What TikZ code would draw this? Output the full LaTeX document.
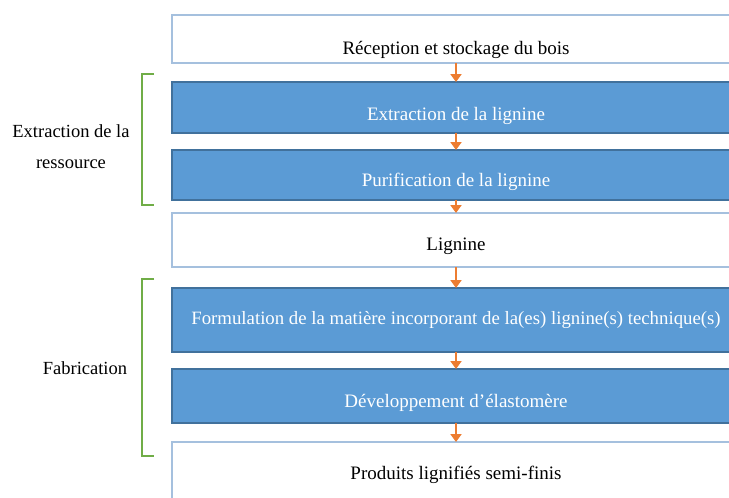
\documentclass[tikz,border=0pt]{standalone}
\usepackage{fontspec}
\setmainfont{Liberation Serif}
\usetikzlibrary{arrows.meta}
\usetikzlibrary{positioning}

\definecolor{bleu}{HTML}{5B9BD5}
\definecolor{bleufonce}{HTML}{41719C}
\definecolor{bleuclair}{HTML}{A5C0DE}
\definecolor{orange}{HTML}{ED7D31}
\definecolor{vert}{HTML}{70AD47}

% texte abaisse dans la boite
\newcommand{\decale}[2]{\raisebox{#1}[0pt][0pt]{#2}}

\begin{document}
\begin{tikzpicture}[x=1pt, y=-1pt,
        etape/.style={rectangle, draw=bleuclair, line width=1.8pt, fill=white, minimum width=568pt, inner sep=0pt, outer sep=0pt, font=\fontsize{19}{22}\selectfont},
        procede/.style={etape, draw=bleufonce, line width=1.2pt, fill=bleu, text=white},
        fleche/.style={draw=orange, line width=2.8pt, -{Triangle[width=11pt,length=8pt]}},
        accolade/.style={draw=vert, line width=2pt},
        groupe/.style={align=center, font=\fontsize{18.5}{31}\selectfont}]
        \useasboundingbox (0, 0) rectangle (729, 498);
        \fill[white] (0, 0) rectangle (729, 498);

        \node[etape, minimum height=48pt] (reception) at (456, 39) {\decale{-15pt}{Réception et stockage du bois}};
        \node[procede, minimum height=51pt] (extraction) at (456, 107.5) {\decale{-12.5pt}{Extraction de la lignine}};
        \node[procede, minimum height=50pt] (purification) at (456, 175) {\decale{-11pt}{Purification de la lignine}};
        \node[etape, minimum height=54pt] (lignine) at (456, 240) {\decale{-10pt}{Lignine}};
        \node[procede, minimum height=64pt] (formulation) at (456, 320) {\decale{-4pt}{\fontsize{18.8}{22}\selectfont Formulation de la matière incorporant de la(es) lignine(s) technique(s)}};
        \node[procede, minimum height=54pt] (elastomere) at (456, 396) {\decale{-11pt}{Développement d’élastomère}};
        \node[etape, minimum height=60pt] (produits) at (456, 472) {\decale{-7pt}{Produits lignifiés semi-finis}};

        \draw[fleche] (reception.south) -- (extraction.north);
        \draw[fleche] (extraction.south) -- (purification.north);
        \draw[fleche] (purification.south) -- (lignine.north);
        \draw[fleche] (lignine.south) -- (formulation.north);
        \draw[fleche] (formulation.south) -- (elastomere.north);
        \draw[fleche] (elastomere.south) -- (produits.north);

        \draw[accolade] (154, 74) -- (142, 74) -- (142, 205) -- (154, 205);
        \draw[accolade] (154, 279) -- (142, 279) -- (142, 456) -- (154, 456);

        \node[groupe] (ressource) at (71, 147) {Extraction de la\\ressource};
        \node[groupe] (fabrication) at (85, 368) {Fabrication};
    \end{tikzpicture}
\end{document}
